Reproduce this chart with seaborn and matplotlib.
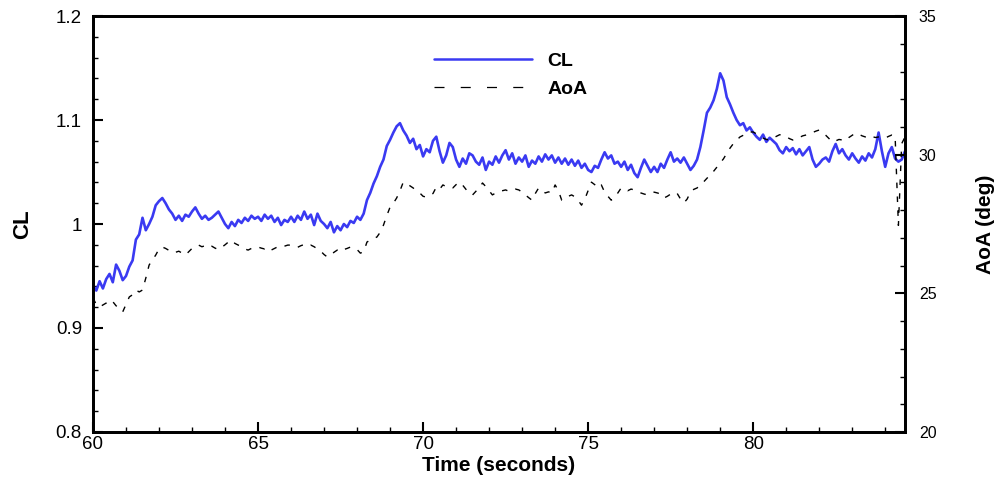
import numpy as np
import pandas as pd
import matplotlib
matplotlib.use("Agg")
import matplotlib.pyplot as plt
import seaborn as sns

t_start = 60.0
dt = 0.1

cl_values = [
    0.941, 0.936, 0.945, 0.938, 0.947, 0.952, 0.944, 0.961, 0.955, 0.946,
    0.950, 0.959, 0.965, 0.985, 0.990, 1.006, 0.994, 1.000, 1.007, 1.018,
    1.022, 1.025, 1.020, 1.014, 1.010, 1.004, 1.008, 1.003, 1.009, 1.007,
    1.012, 1.016, 1.010, 1.005, 1.008, 1.004, 1.006, 1.009, 1.012, 1.006,
    1.000, 0.996, 1.002, 0.998, 1.004, 1.001, 1.006, 1.003, 1.008, 1.005,
    1.007, 1.003, 1.009, 1.005, 1.008, 1.002, 1.006, 0.999, 1.004, 1.002,
    1.007, 1.002, 1.008, 1.004, 1.012, 1.005, 1.009, 0.999, 1.010, 1.003,
    1.000, 0.996, 1.002, 0.992, 0.998, 0.994, 1.000, 0.997, 1.003, 1.001,
    1.007, 1.004, 1.010, 1.023, 1.030, 1.039, 1.046, 1.055, 1.062, 1.075,
    1.081, 1.088, 1.094, 1.097, 1.090, 1.085, 1.078, 1.082, 1.072, 1.076,
    1.065, 1.072, 1.069, 1.080, 1.084, 1.070, 1.059, 1.066, 1.078, 1.074,
    1.062, 1.055, 1.063, 1.058, 1.068, 1.066, 1.060, 1.057, 1.064, 1.052,
    1.060, 1.057, 1.065, 1.059, 1.066, 1.071, 1.062, 1.068, 1.058, 1.064,
    1.060, 1.066, 1.055, 1.061, 1.058, 1.065, 1.060, 1.067, 1.062, 1.066,
    1.059, 1.064, 1.058, 1.063, 1.057, 1.062, 1.056, 1.061, 1.054, 1.058,
    1.052, 1.050, 1.056, 1.054, 1.062, 1.069, 1.063, 1.066, 1.058, 1.060,
    1.055, 1.060, 1.052, 1.057, 1.049, 1.045, 1.054, 1.062, 1.056, 1.050,
    1.055, 1.050, 1.058, 1.054, 1.062, 1.069, 1.060, 1.063, 1.059, 1.064,
    1.058, 1.052, 1.056, 1.062, 1.074, 1.090, 1.107, 1.112, 1.119, 1.130,
    1.145, 1.138, 1.122, 1.115, 1.107, 1.100, 1.095, 1.097, 1.090, 1.093,
    1.088, 1.084, 1.081, 1.086, 1.079, 1.083, 1.080, 1.077, 1.071, 1.068,
    1.074, 1.070, 1.073, 1.067, 1.072, 1.066, 1.070, 1.074, 1.062, 1.055,
    1.058, 1.062, 1.064, 1.060, 1.070, 1.077, 1.068, 1.072, 1.066, 1.062,
    1.068, 1.063, 1.059, 1.065, 1.061, 1.068, 1.064, 1.072, 1.088, 1.070,
    1.055, 1.068, 1.074, 1.063, 1.060, 1.062, 1.070,
]

aoa_values = [
    24.83, 24.60, 24.51, 24.58, 24.65, 24.76, 24.70, 24.55, 24.45, 24.33,
    24.60, 24.87, 24.95, 25.12, 25.05, 25.12, 25.55, 26.02, 26.20, 26.38,
    26.60, 26.67, 26.62, 26.55, 26.56, 26.48, 26.52, 26.45, 26.38, 26.50,
    26.62, 26.70, 26.74, 26.68, 26.72, 26.65, 26.70, 26.63, 26.58, 26.66,
    26.75, 26.85, 26.92, 26.80, 26.74, 26.68, 26.60, 26.56, 26.62, 26.66,
    26.67, 26.63, 26.60, 26.66, 26.56, 26.62, 26.68, 26.72, 26.70, 26.74,
    26.74, 26.70, 26.66, 26.72, 26.76, 26.70, 26.74, 26.68, 26.60, 26.52,
    26.40, 26.31, 26.38, 26.48, 26.56, 26.50, 26.58, 26.62, 26.67, 26.64,
    26.58, 26.45, 26.50, 26.85, 26.92, 26.98, 27.03, 27.20, 27.46, 27.80,
    28.11, 28.25, 28.44, 28.70, 29.01, 28.95, 28.88, 28.80, 28.70, 28.62,
    28.50, 28.47, 28.55, 28.60, 28.83, 28.75, 28.91, 28.85, 28.80, 28.80,
    28.92, 29.01, 28.90, 28.75, 28.60, 28.55, 28.68, 28.80, 28.98, 28.85,
    28.70, 28.55, 28.62, 28.68, 28.70, 28.73, 28.68, 28.72, 28.76, 28.73,
    28.65, 28.55, 28.45, 28.36, 28.60, 28.80, 28.72, 28.62, 28.66, 28.62,
    28.91, 28.70, 28.36, 28.42, 28.50, 28.55, 28.48, 28.35, 28.18, 28.40,
    28.70, 29.01, 28.92, 28.80, 28.91, 28.65, 28.50, 28.36, 28.45, 28.62,
    28.80, 28.78, 28.70, 28.76, 28.73, 28.68, 28.62, 28.58, 28.55, 28.60,
    28.65, 28.62, 28.58, 28.44, 28.50, 28.58, 28.65, 28.60, 28.40, 28.26,
    28.40, 28.65, 28.75, 28.80, 28.91, 29.02, 29.15, 29.27, 29.40, 29.55,
    29.70, 29.85, 30.05, 30.24, 30.40, 30.52, 30.64, 30.70, 30.78, 30.82,
    30.82, 30.75, 30.68, 30.60, 30.55, 30.53, 30.60, 30.66, 30.72, 30.71,
    30.65, 30.58, 30.53, 30.55, 30.62, 30.68, 30.71, 30.74, 30.80, 30.85,
    30.89, 30.80, 30.70, 30.58, 30.46, 30.50, 30.55, 30.53, 30.50, 30.62,
    30.70, 30.78, 30.74, 30.68, 30.64, 30.60, 30.66, 30.62, 30.64, 30.64,
    30.60, 30.66, 30.71, 30.68, 27.45, 30.40, 30.64,
]

x_ticks = [60, 65, 70, 75, 80]
cl_ticks = [0.8, 0.9, 1.0, 1.1, 1.2]
cl_tick_labels = ["0.8", "0.9", "1", "1.1", "1.2"]
aoa_ticks = [20, 25, 30, 35]

time = np.round(t_start + dt * np.arange(len(cl_values)), 2)
df = pd.DataFrame({"Time": time, "CL": cl_values, "AoA": aoa_values})

# ---- style ----
sns.set_theme(style="ticks")
plt.rcParams["font.family"] = ["Liberation Sans", "DejaVu Sans"]
for key in ("text.color", "axes.labelcolor", "xtick.color", "ytick.color",
            "xtick.labelcolor", "ytick.labelcolor"):
    plt.rcParams[key] = "black"

fig = plt.figure(figsize=(10.01, 4.87), dpi=100)
ax = fig.add_axes([0.0929, 0.113, 0.8112, 0.854])
ax2 = ax.twinx()

blue = "#3a3af2"
sns.lineplot(data=df, x="Time", y="CL", ax=ax, color=blue, lw=1.9, label="CL", legend=False)
sns.lineplot(data=df, x="Time", y="AoA", ax=ax2, color="black", lw=1.0, label="AoA", legend=False)
ax2.lines[0].set_linestyle((0, (4, 6)))

ax.set_xlim(60, 84.6)
ax.set_ylim(0.8, 1.2)
ax2.set_ylim(20, 35)

ax.set_xticks(x_ticks)
ax.set_xticks(np.arange(60, 85, 1), minor=True)
ax.set_yticks(cl_ticks)
ax.set_yticklabels(cl_tick_labels)
ax.set_yticks(np.arange(0.8, 1.2001, 0.02), minor=True)
ax2.set_yticks(aoa_ticks)
ax2.set_yticks(np.arange(20, 35.01, 1), minor=True)

for a in (ax, ax2):
    for s in a.spines.values():
        s.set_linewidth(2.0)
        s.set_color("black")
    a.tick_params(which="major", direction="in", length=7, width=1.5, color="black")
    a.tick_params(which="minor", direction="in", length=3.5, width=1.0, color="black")

ax.tick_params(axis="x", which="both", top=False)
ax.tick_params(axis="x", labelsize=13.5, pad=3)
ax.tick_params(axis="y", labelsize=13.5, pad=8, right=False)
ax2.tick_params(axis="y", labelsize=11.5, pad=10)

ax.set_xlabel("Time (seconds)", fontsize=15, fontweight="bold", labelpad=2)
ax.set_ylabel("CL", fontsize=16, fontweight="bold", labelpad=16)
ax2.set_ylabel("AoA (deg)", fontsize=15, fontweight="bold", labelpad=28)

h1, l1 = ax.get_legend_handles_labels()
h2, l2 = ax2.get_legend_handles_labels()
leg = ax2.legend(h1 + h2, l1 + l2, loc="upper left", bbox_to_anchor=(0.399, 0.955),
                 frameon=False, handlelength=5.0, handletextpad=0.8,
                 prop={"weight": "bold", "size": 14}, labelspacing=0.55)
leg.get_lines()[0].set_linewidth(1.8)
leg.get_lines()[1].set_linewidth(0.9)
leg.get_lines()[1].set_linestyle((0, (8, 13)))

fig.savefig("out.png", dpi=100)
